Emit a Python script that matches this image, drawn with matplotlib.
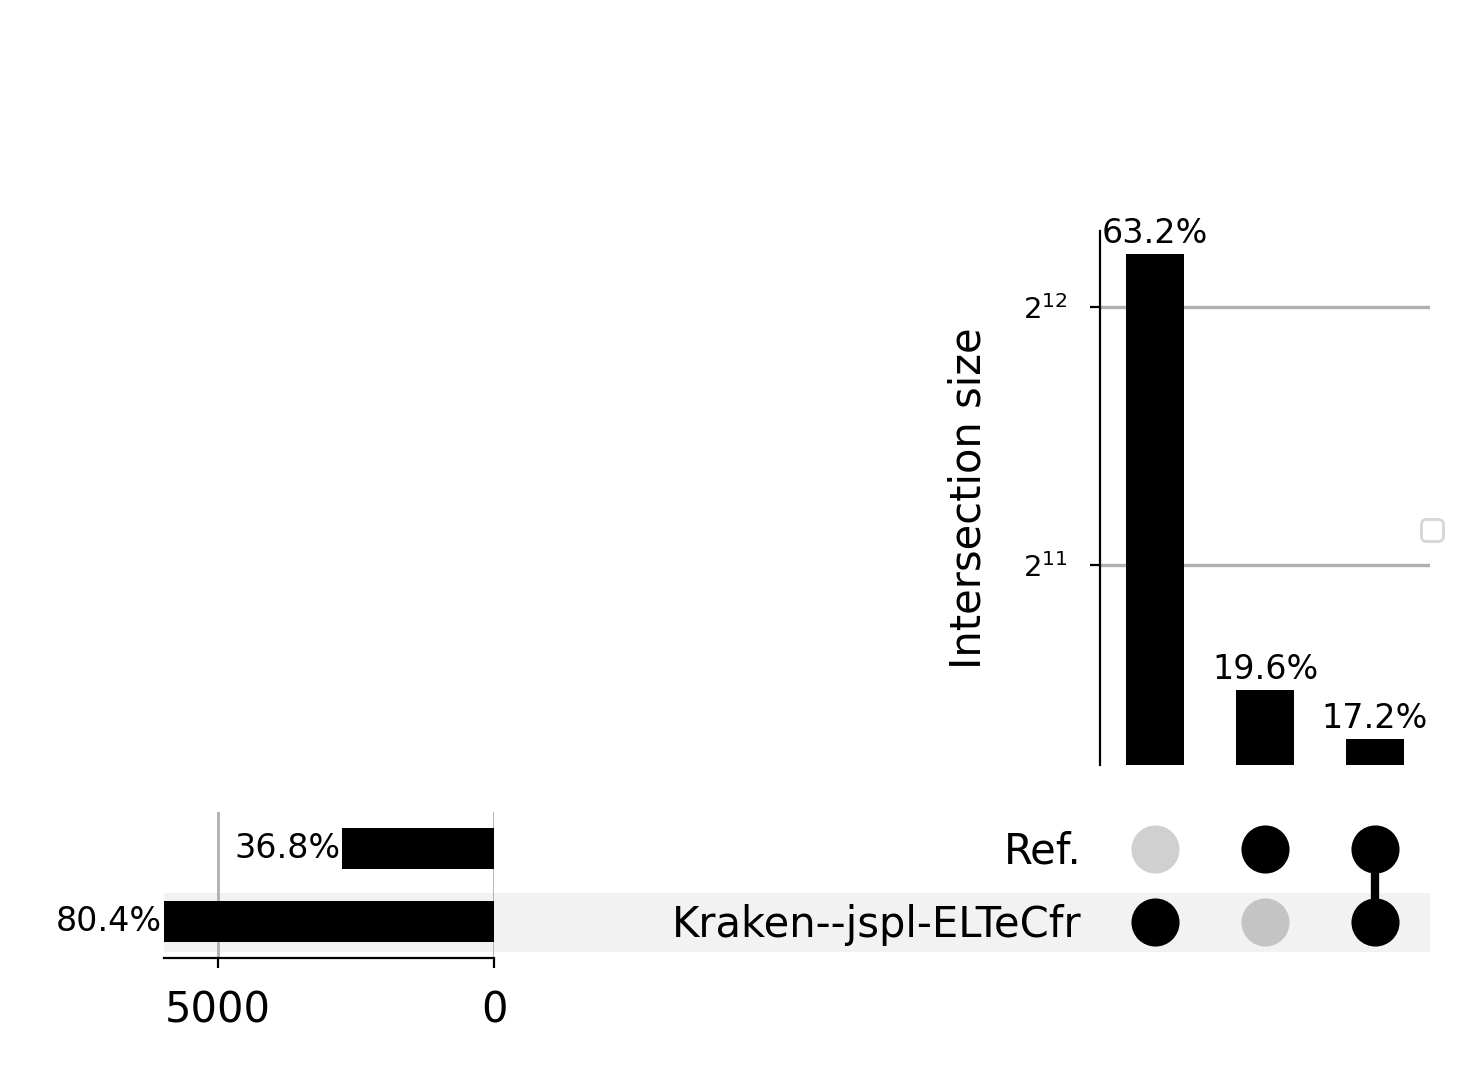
import matplotlib.pyplot as plt

from matplotlib.ticker import FixedLocator

# intersections: (Kraken only, Ref only, both)
setNames = ['Ref.', 'Kraken--jspl-ELTeCfr']
interSizes = [4720, 1464, 1285]
interPct = ['63.2%', '19.6%', '17.2%']
interMembers = [[False, True], [True, False], [True, True]]  # [Ref, Kraken]
setTotals = [2749, 6005]
setPct = ['36.8%', '80.4%']

W, H = 1466, 1066
fig = plt.figure(figsize=(W / 200, H / 200), dpi=200)

def box(x0, y0, x1, y1):
    return [x0 / W, 1 - y1 / H, (x1 - x0) / W, (y1 - y0) / H]

# shaded row band in a background axes
axB = fig.add_axes(box(164, 893, 1430, 952), zorder=-5)
axB.set_facecolor('#f2f2f2')
axB.axis('off')
axB.add_patch(plt.Rectangle((0, 0), 1, 1, transform=axB.transAxes, color='#f2f2f2'))

# intersection bars
axI = fig.add_axes(box(1100, 231, 1430, 765))
axI.set_yscale('log', base=2)
axI.bar(range(3), interSizes, width=0.53, color='black', zorder=3)
for i, (v, p) in enumerate(zip(interSizes, interPct)):
    axI.text(i, v * 1.01, p, ha='center', va='bottom', fontsize=12)
axI.set_xlim(-0.5, 2.5)
axI.set_ylim(1197, 5020)
axI.yaxis.set_major_locator(FixedLocator([2048, 4096]))
axI.yaxis.set_minor_locator(FixedLocator([]))
axI.set_yticklabels(['$2^{11}$', '$2^{12}$'], fontsize=10.5)
axI.tick_params(axis='y', pad=8)
axI.grid(axis='y', color='#b0b0b0', linewidth=1.2)
axI.set_xticks([])
for s in ['top', 'right', 'bottom']:
    axI.spines[s].set_visible(False)
axI.set_ylabel('Intersection size', fontsize=15, labelpad=12)
axI.legend(handles=[], loc='center left', bbox_to_anchor=(0.93, 0.44))

# matrix
axM = fig.add_axes(box(1100, 812, 1430, 958))
axM.set_xlim(-0.5, 2.5)
axM.set_ylim(1.5, -0.5)
for i, mem in enumerate(interMembers):
    for r, on in enumerate(mem):
        axM.scatter(i, r, s=300, color='black' if on else ('#d0d0d0' if r == 0 else '#c4c4c4'),
                    zorder=3, linewidths=0)
    rows = [r for r, on in enumerate(mem) if on]
    if len(rows) > 1:
        axM.plot([i, i], [min(rows), max(rows)], color='black', linewidth=3, zorder=2)
axM.axis('off')
for r, name in enumerate(setNames):
    fig.text(1082 / W, 1 - (852 + 73 * r) / H, name, ha='right', va='center', fontsize=15)

# totals
axT = fig.add_axes(box(164, 812, 494, 958))
axT.barh([0, 1], setTotals, height=0.55, color='black', zorder=3)
axT.set_xlim(5978, 0)
axT.set_ylim(1.5, -0.5)
for r, (v, p) in enumerate(zip(setTotals, setPct)):
    axT.text(min(v, 5978) + 30, r, p, ha='right', va='center', fontsize=12)
axT.set_xticks([5000, 0])
axT.tick_params(axis='x', labelsize=15, pad=8)
axT.set_yticks([])
axT.grid(axis='x', color='#b0b0b0', linewidth=1)
axT.patch.set_alpha(0)
for s in ['top', 'left', 'right']:
    axT.spines[s].set_visible(False)

fig.savefig('out.png', dpi=200)
